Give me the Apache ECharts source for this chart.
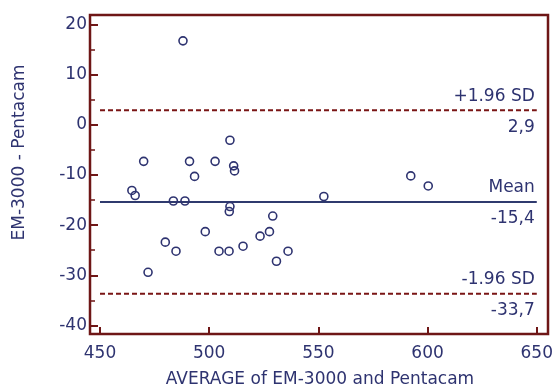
<!DOCTYPE html>
<html>
<head>
<meta charset="utf-8">
<script src="https://cdn.jsdelivr.net/npm/echarts@6/dist/echarts.min.js"></script>
<style>
html,body{margin:0;padding:0;background:#fff;}
#c{width:556px;height:389px;}
</style>
</head>
<body>
<div id="c"></div>
<script>
// ---- data ----
const xTicks = [450, 500, 550, 600, 650];
const yTicks = [-40, -30, -20, -10, 0, 10, 20];
const avgValues = [488, 470, 491, 493.3, 502.7, 509.5, 511.2, 511.6, 464.6, 466.1,
  483.6, 488.9, 509.5, 509.2, 529.1, 498.2, 479.9, 484.8, 504.5, 509.1,
  515.5, 523.3, 527.6, 530.8, 472, 552.5, 536.1, 592.3, 600.3];
const diffValues = [16.7, -7.3, -7.3, -10.3, -7.3, -3.1, -8.2, -9.2, -13.1, -14.1,
  -15.2, -15.2, -16.3, -17.3, -18.2, -21.3, -23.4, -25.2, -25.2, -25.2,
  -24.2, -22.2, -21.3, -27.2, -29.4, -14.3, -25.2, -10.2, -12.2];
const refNames = ['+1.96 SD', 'Mean', '-1.96 SD'];
const refValues = [2.9, -15.4, -33.7];
const refTexts = ['2,9', '-15,4', '-33,7'];
const xTitle = 'AVERAGE of EM-3000 and Pentacam';
const yTitle = 'EM-3000 - Pentacam';

const NAVY = '#2e3370';
const MAROON = '#6e1616';
const FONT = '"DejaVu Sans", sans-serif';
const FS = 17;

const xMin = xTicks[0], xMax = xTicks[xTicks.length - 1];
const yMin = yTicks[0], yMax = yTicks[yTicks.length - 1];

const chart = echarts.init(document.getElementById('c'), null, {renderer: 'canvas'});

const refLineSeries = refValues.map((v, i) => ({
  type: 'line',
  xAxisIndex: 1, yAxisIndex: 1,
  data: [[xMin, v], [xMax, v]],
  showSymbol: false,
  silent: true,
  z: 1,
  lineStyle: i === 1
    ? {color: '#2f3a6e', width: 2, type: 'solid'}
    : {color: '#7a1515', width: 2, type: [5, 3]}
}));

const option = {
  backgroundColor: '#ffffff',
  animation: false,
  grid: [
    {left: 90, top: 15, width: 458, height: 319, show: true, borderColor: MAROON, borderWidth: 2.5, backgroundColor: 'transparent', z: 5},
    {left: 100, top: 24.3, right: 17, bottom: 63.5}
  ],
  xAxis: [
    {gridIndex: 0, show: false, min: 0, max: 1},
    {
      gridIndex: 1, type: 'value', min: xMin, max: xMax, interval: 50, offset: 8.5,
      position: 'bottom',
      axisLine: {show: false, onZero: false},
      axisTick: {show: true, inside: true, length: 7, lineStyle: {color: MAROON, width: 2}},
      minorTick: {show: false},
      splitLine: {show: false},
      axisLabel: {color: NAVY, fontSize: FS, fontFamily: FONT, margin: 11}
    }
  ],
  yAxis: [
    {gridIndex: 0, show: false, min: 0, max: 1},
    {
      gridIndex: 1, type: 'value', min: yMin, max: yMax, interval: 10, offset: 10,
      position: 'left',
      axisLine: {show: false, onZero: false},
      axisTick: {show: true, inside: true, length: 8, lineStyle: {color: MAROON, width: 2}},
      minorTick: {show: true, splitNumber: 2, length: 5, lineStyle: {color: MAROON, width: 1.5}},
      splitLine: {show: false},
      axisLabel: {color: NAVY, fontSize: FS, fontFamily: FONT, margin: 3}
    }
  ],
  graphic: [
    {type: 'text', x: 320, y: 380, style: {text: xTitle, fill: NAVY, font: FS + 'px ' + FONT, align: 'center', verticalAlign: 'middle'}},
    {type: 'text', x: 20, y: 152.5, rotation: Math.PI / 2, style: {text: yTitle, fill: NAVY, font: FS + 'px ' + FONT, align: 'center', verticalAlign: 'middle'}}
  ],
  series: [
    ...refLineSeries,
    {
      type: 'scatter',
      xAxisIndex: 1, yAxisIndex: 1,
      data: avgValues.map((x, i) => [x, diffValues[i]]),
      symbol: 'circle',
      symbolSize: 8,
      z: 3,
      itemStyle: {color: 'rgba(0,0,0,0)', borderColor: NAVY, borderWidth: 1.6, opacity: 1}
    },
    {
      type: 'scatter',
      xAxisIndex: 1, yAxisIndex: 1,
      data: refValues.map((v, i) => ({value: [xMax, v], nm: refNames[i], tx: refTexts[i]})),
      symbolSize: 0,
      silent: true,
      z: 4,
      itemStyle: {color: NAVY, opacity: 1},
      label: {
        show: true,
        position: 'left',
        distance: 2,
        offset: [0, 1.5],
        align: 'right',
        color: NAVY,
        opacity: 1,
        formatter: p => '{a|' + p.data.nm + '}\n{a|' + p.data.tx + '}',
        rich: {a: {color: NAVY, opacity: 1, fontSize: FS, fontFamily: FONT, lineHeight: 31, align: 'right'}}
      }
    }
  ]
};
chart.setOption(option);
</script>
</body>
</html>
